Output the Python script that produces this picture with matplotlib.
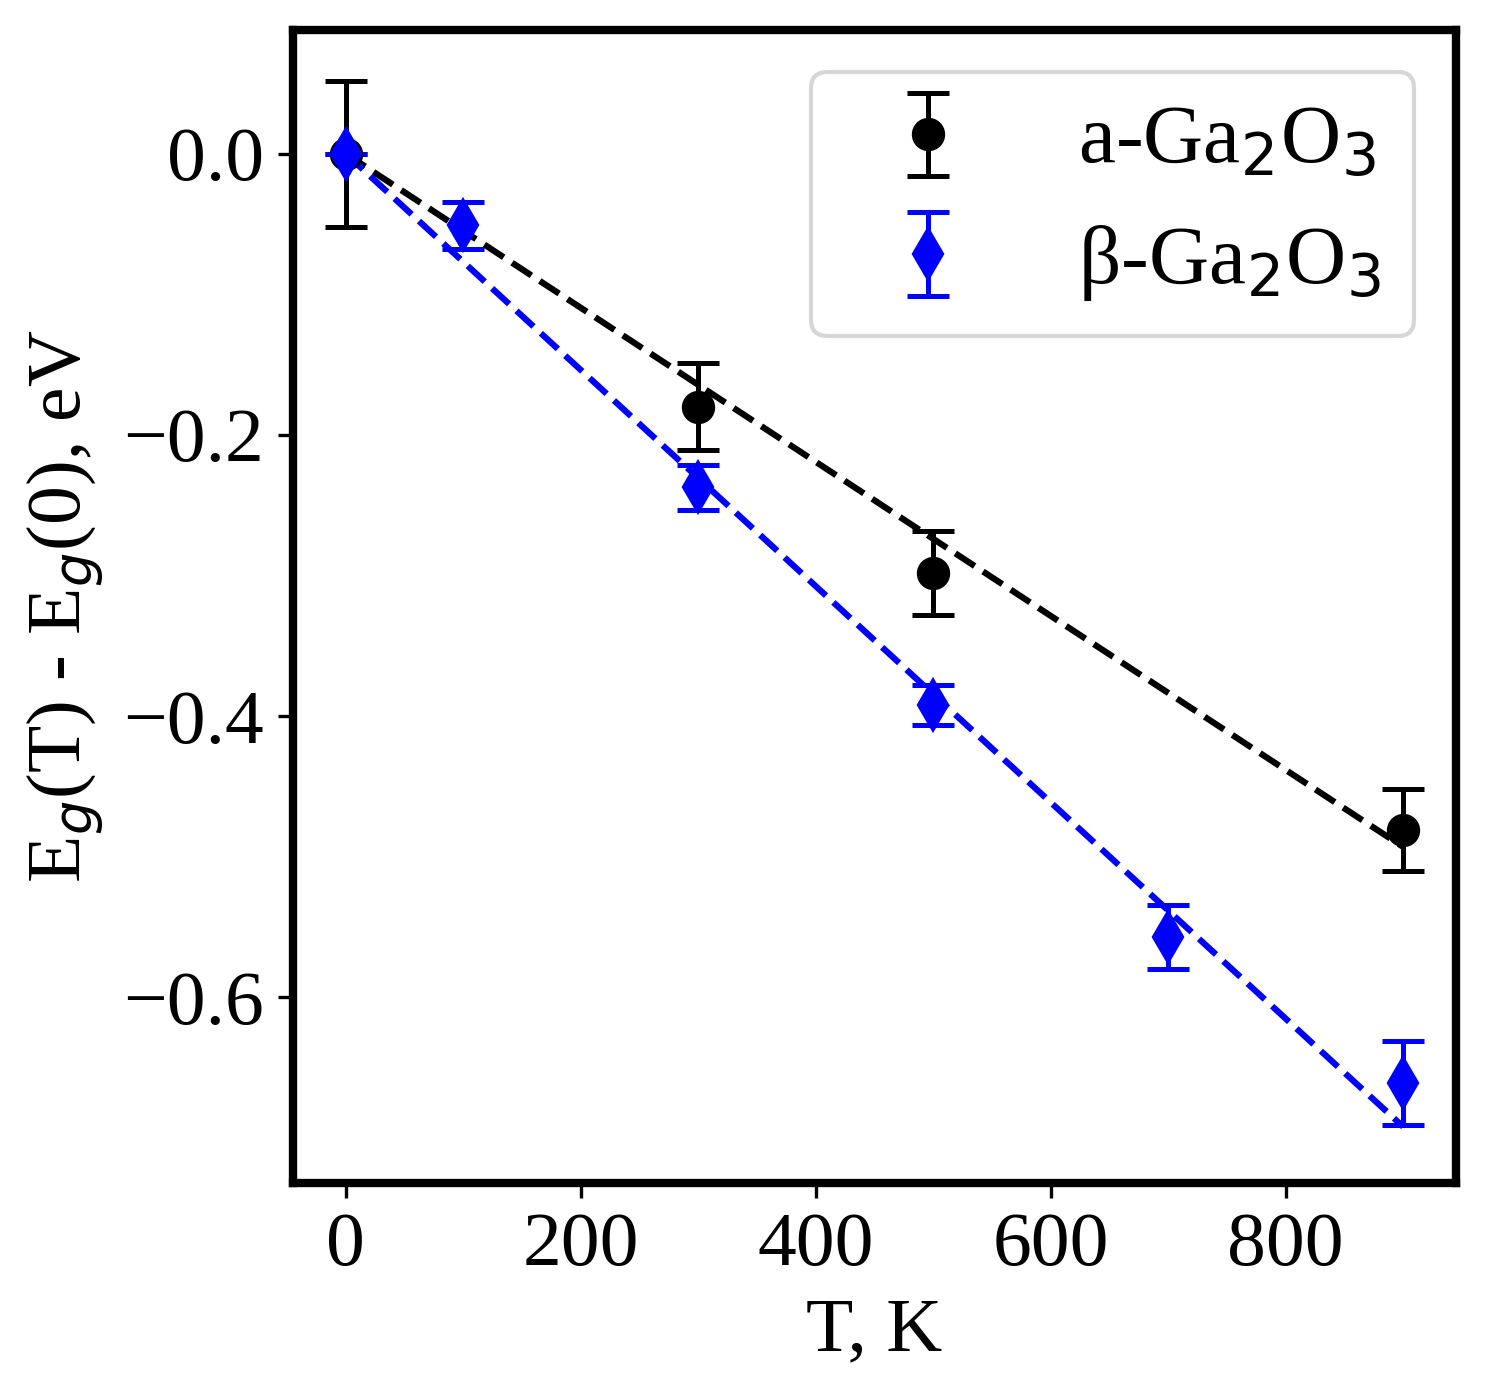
import numpy as np
import matplotlib
matplotlib.use("Agg")
import matplotlib.pyplot as plt

# a-Ga2O3 data
T_a = [0, 300, 500, 900]
dE_a = [0.0, -0.180, -0.298, -0.481]
err_a = [0.052, 0.031, 0.030, 0.029]

# beta-Ga2O3 data
T_b = [0, 100, 300, 500, 700, 900]
dE_b = [0.0, -0.051, -0.237, -0.392, -0.557, -0.661]
err_b = [0.0, 0.017, 0.016, 0.014, 0.023, 0.030]

# linear fits (end points)
fit_T = [0, 900]
fit_a = [0.0, -0.493]
fit_b = [0.0, -0.692]

plt.rcParams["font.family"] = ["Liberation Serif", "DejaVu Serif"]
plt.rcParams["font.size"] = 18.6

fig = plt.figure(figsize=(4.95, 4.66), dpi=300)
ax = fig.add_axes([0.1973, 0.1538, 0.7832, 0.8247])

ax.errorbar(T_a, dE_a, yerr=err_a, fmt="o", color="black", markersize=7,
            capsize=5, elinewidth=1.2, capthick=1.2, label="a-Ga$_2$O$_3$")
ax.errorbar(T_b, dE_b, yerr=err_b, fmt="d", color="blue", markersize=8,
            capsize=5, elinewidth=1.2, capthick=1.2, label="β-Ga$_2$O$_3$")
ax.plot(fit_T, fit_a, "--", color="black", linewidth=1.5)
ax.plot(fit_T, fit_b, "--", color="blue", linewidth=1.5)

ax.set_xlim(-45, 945)
ax.set_ylim(-0.732, 0.088)
ax.set_xticks([0, 200, 400, 600, 800])
ax.set_yticks([0.0, -0.2, -0.4, -0.6])
for s in ax.spines.values():
    s.set_linewidth(2)

ax.set_xlabel("T, K")
ax.set_ylabel("E$_g$(T) - E$_g$(0), eV")
ax.legend(loc="upper right", fontsize=20)

fig.savefig("out.png", dpi=300)
